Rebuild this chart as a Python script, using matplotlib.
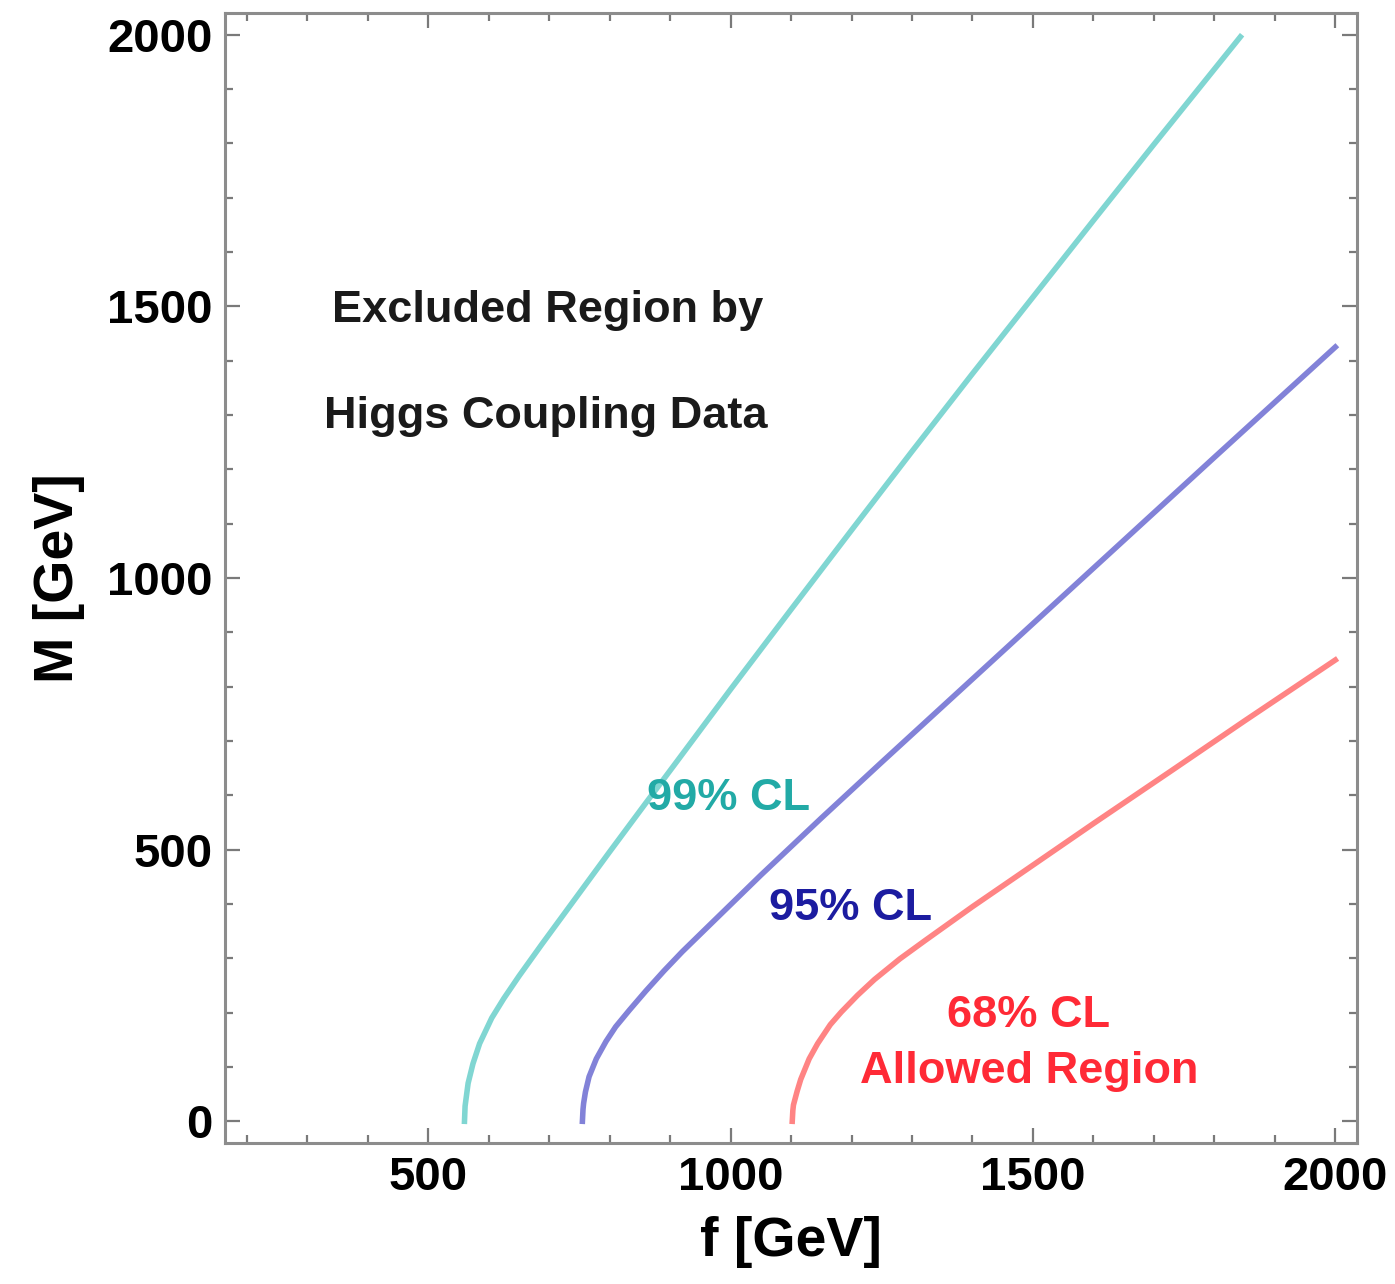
# M vs f exclusion curves from Higgs coupling data
import matplotlib.pyplot as plt
from matplotlib.ticker import MultipleLocator

plt.rcParams['font.family'] = ['Liberation Sans', 'DejaVu Sans']
plt.rcParams['font.weight'] = 'bold'

# curve data (f in GeV, M in GeV)
f_99 = [560, 561, 566, 574, 585, 605, 625, 650, 688, 744, 800, 860, 905, 1000, 1100, 1200, 1300, 1400, 1500, 1600, 1700, 1843]
M_99 = [0, 28, 70, 106, 143, 190, 226, 267, 326, 411, 496, 586, 653, 795, 942, 1088, 1233, 1376, 1517, 1658, 1798, 1996]

f_95 = [755, 756, 757, 760, 766, 778, 794, 810, 833, 860, 890, 920, 955, 1050, 1150, 1250, 1350, 1450, 1600, 1800, 2000]
M_95 = [0, 22, 33, 54, 82, 115, 147, 174, 205, 240, 277, 312, 350, 453, 558, 661, 763, 865, 1018, 1222, 1425]

f_68 = [1102, 1103, 1104, 1110, 1116, 1130, 1144, 1165, 1183, 1210, 1238, 1280, 1322, 1400, 1472, 1600, 1730, 1850, 2000]
M_68 = [0, 20, 30, 55, 77, 115, 143, 178, 201, 232, 261, 299, 333, 395, 450, 548, 646, 737, 849]

x_ticks = [500, 1000, 1500, 2000]
y_ticks = [0, 500, 1000, 1500, 2000]

fig = plt.figure(figsize=(13.95, 12.84), dpi=100)
ax = fig.add_axes([0.1613, 0.1098, 0.8115, 0.8801])

ax.plot(f_99, M_99, color='#80d6d2', lw=4)
ax.plot(f_95, M_95, color='#8282d8', lw=4)
ax.plot(f_68, M_68, color='#ff8484', lw=4)

ax.set_xlim(164, 2036)
ax.set_ylim(-40, 2040)
ax.set_xticks(x_ticks)
ax.set_yticks(y_ticks)
ax.xaxis.set_minor_locator(MultipleLocator(100))
ax.yaxis.set_minor_locator(MultipleLocator(100))

for s in ax.spines.values():
    s.set_color('#8c8c8c')
    s.set_linewidth(2.2)
ax.tick_params(which='both', direction='in', top=True, right=True, color='#7a7a7a', width=1.6)
ax.tick_params(which='major', length=10.5, labelsize=34, pad=9)
ax.tick_params(which='minor', length=5.5)
for lab in ax.get_xticklabels() + ax.get_yticklabels():
    lab.set_fontweight('bold')

ax.set_xlabel('f [GeV]', fontsize=40, fontweight='bold', labelpad=12)
ax.set_ylabel('M [GeV]', fontsize=40, fontweight='bold', labelpad=16)

ax.text(698, 1492, 'Excluded Region by', fontsize=32.5, fontweight='bold', ha='center', va='center', color='#1a1a1a')
ax.text(695, 1297, 'Higgs Coupling Data', fontsize=32.5, fontweight='bold', ha='center', va='center', color='#1a1a1a')
ax.text(996, 595, '99% CL', fontsize=32.5, fontweight='bold', ha='center', va='center', color='#22aaa6')
ax.text(1198, 392, '95% CL', fontsize=32.5, fontweight='bold', ha='center', va='center', color='#1c1ca0')
ax.text(1493, 195, '68% CL', fontsize=32.5, fontweight='bold', ha='center', va='center', color='#ff2a36')
ax.text(1493, 92, 'Allowed Region', fontsize=32.5, fontweight='bold', ha='center', va='center', color='#ff2a36')

fig.savefig('out.png', dpi=100)
